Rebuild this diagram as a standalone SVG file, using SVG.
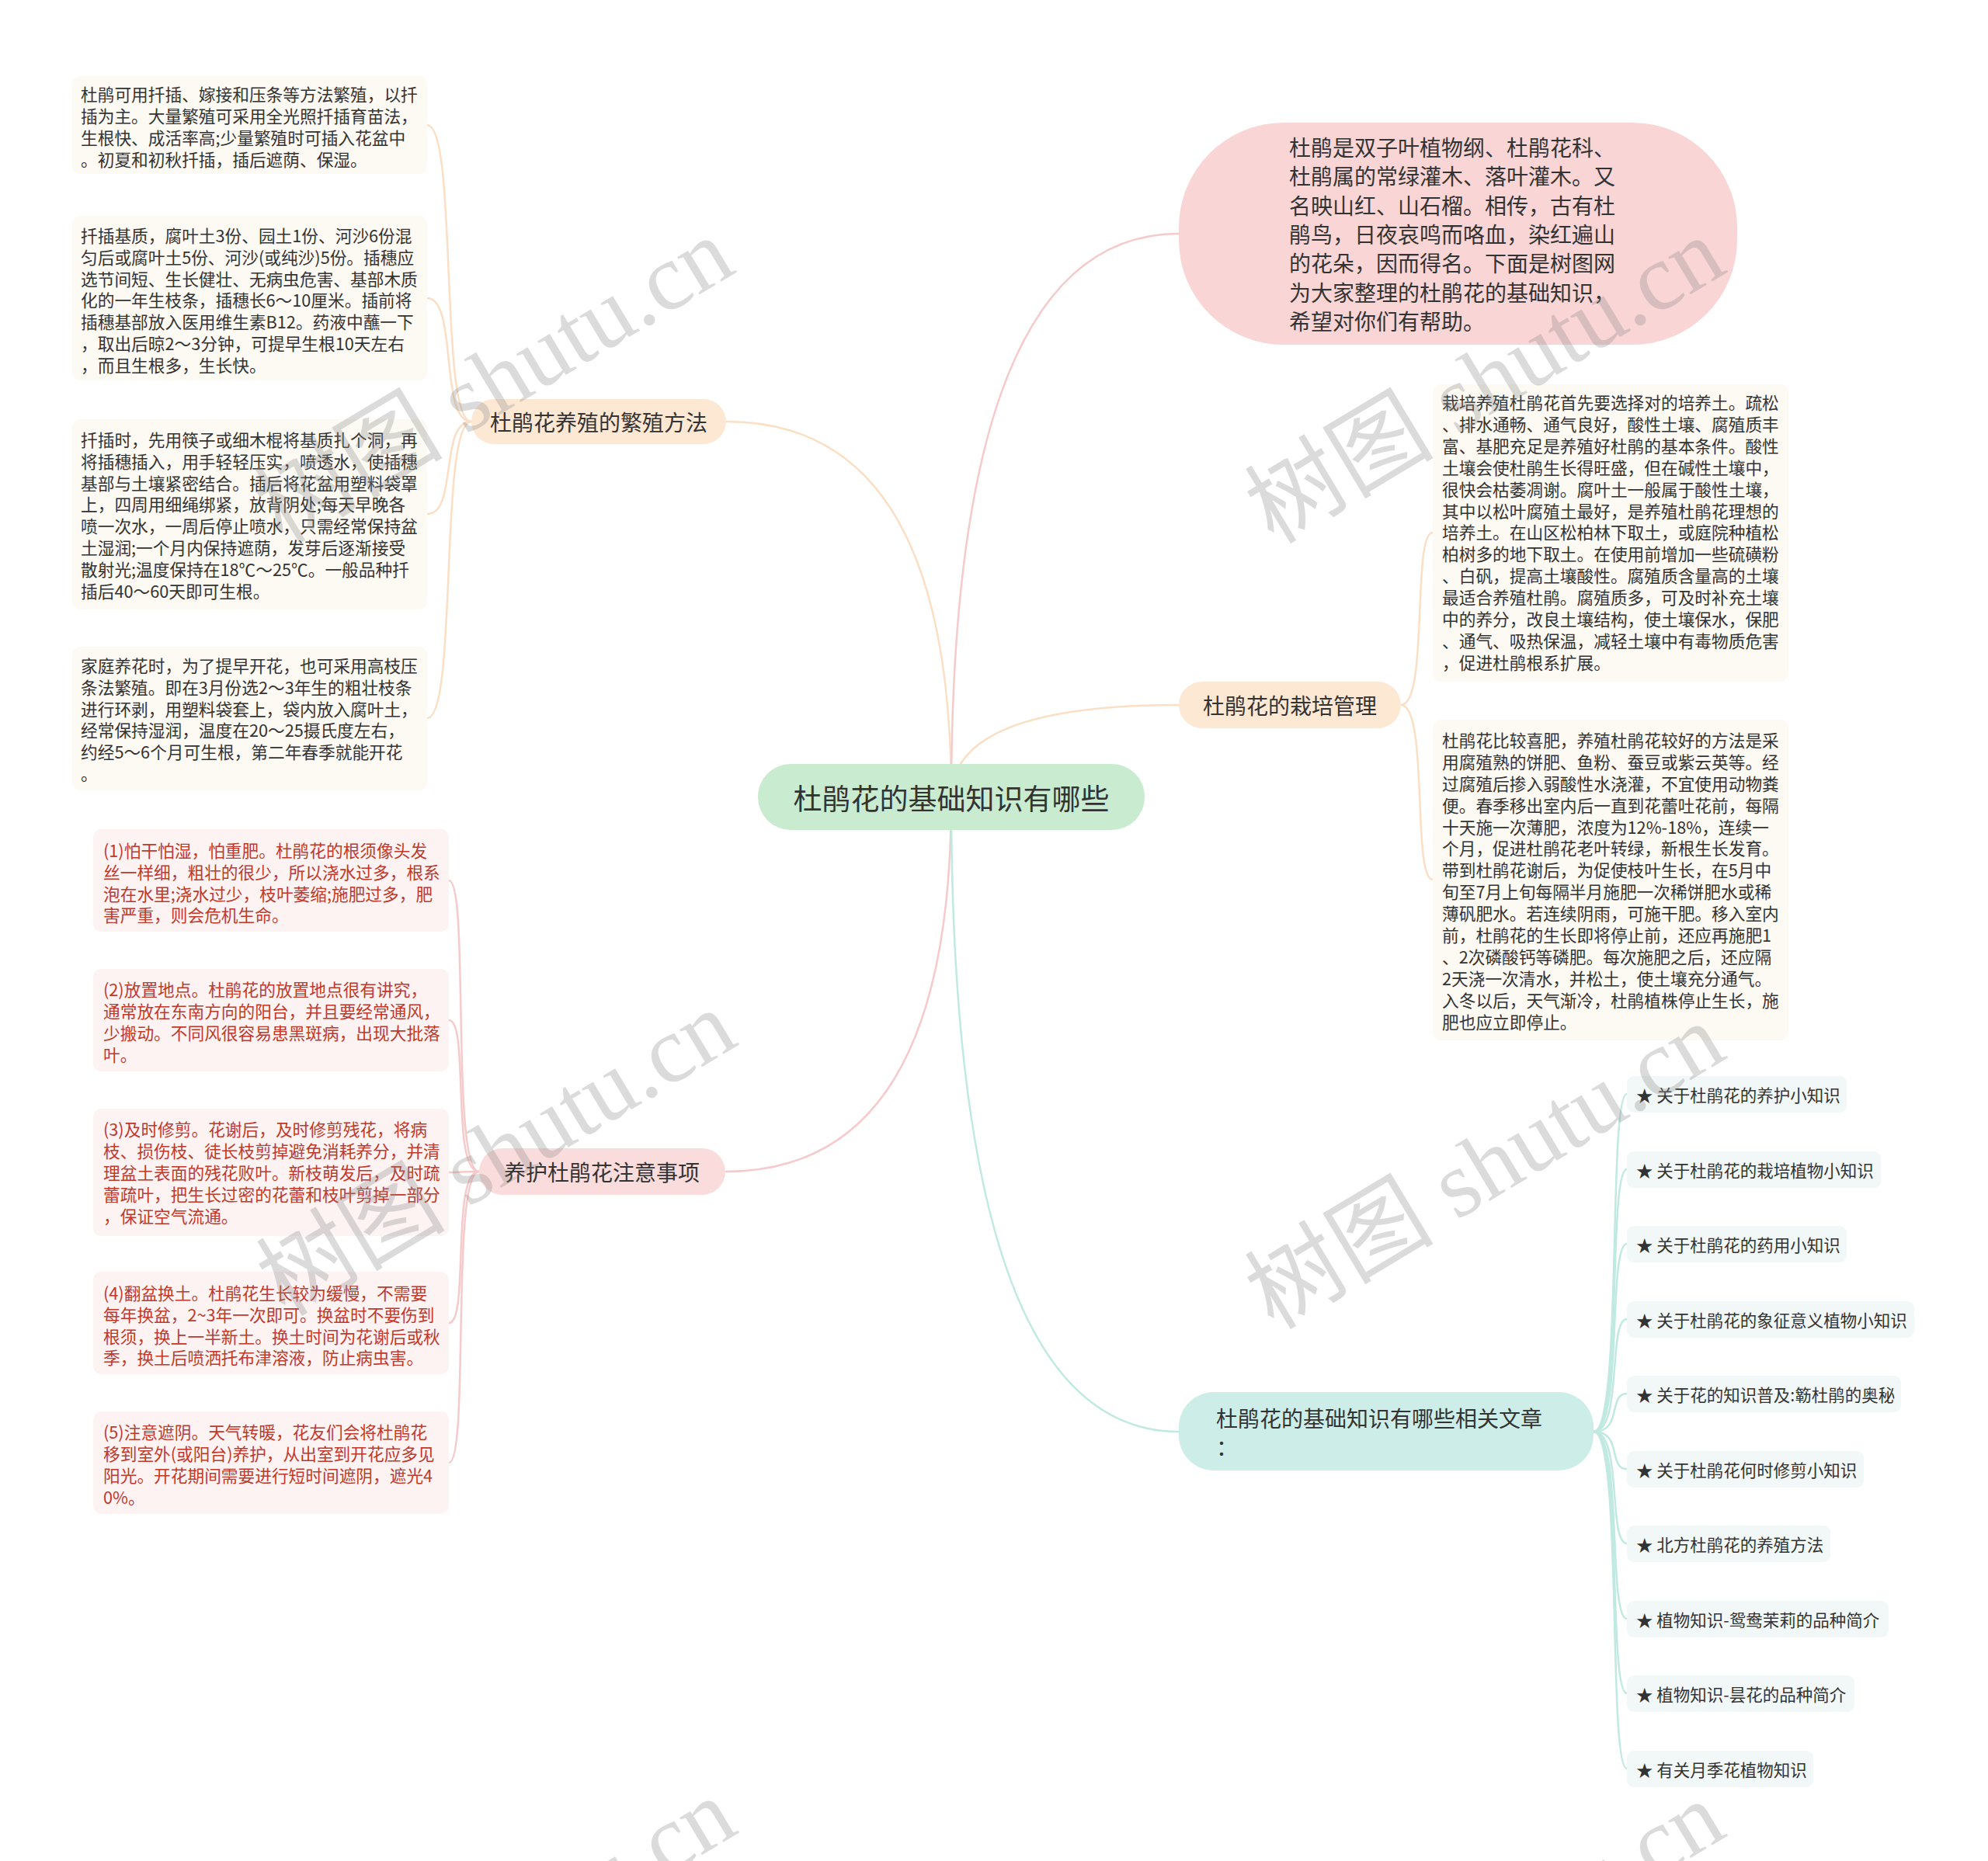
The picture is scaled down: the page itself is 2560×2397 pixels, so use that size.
<svg xmlns="http://www.w3.org/2000/svg" width="2560" height="2397" viewBox="0 0 2560 2397">
<style>
text{font-family:"Noto Sans CJK SC","Noto Sans",sans-serif;dominant-baseline:central;}
.blk{font-size:21.7px;fill:#333}
.red{font-size:21.7px;fill:#c0392b}
.lab{font-size:28px;fill:#333}
.itm{font-size:21.5px;fill:#333}
.cb{fill:#fdf9f3}
.rb{fill:#fdf3f3}
.ib{fill:#f1f8f7}
.lp{fill:none;stroke:#fbdfc4;stroke-width:2.5}
.lr{fill:none;stroke:#f6caca;stroke-width:2.5}
.lt{fill:none;stroke:#bfe9e1;stroke-width:2.5}
.wm{font-family:"Liberation Serif","Noto Sans CJK SC",serif;font-size:122px;fill:#888;fill-opacity:0.3;dominant-baseline:auto}
</style>
<rect width="2560" height="2397" fill="#fff"/>
<g id="connectors">
<path class="lp" d="M1225,1027 Q1225,543 935,543"/>
<path class="lr" d="M1225,1027 Q1225,301 1518,301"/>
<path class="lp" d="M1225,1027 Q1225,908 1518,908"/>
<path class="lr" d="M1225,1027 Q1225,1509 934,1509"/>
<path class="lt" d="M1225,1027 Q1225,1844 1518,1844"/>
<path class="lp" d="M607,543 C565,543 590,161 550,161"/>
<path class="lp" d="M607,543 C565,543 590,384 550,384"/>
<path class="lp" d="M607,543 C565,543 590,662 550,662"/>
<path class="lp" d="M607,543 C565,543 590,925 550,925"/>
<path class="lr" d="M617,1509 C580,1509 605,1134 578,1134"/>
<path class="lr" d="M617,1509 C580,1509 605,1314 578,1314"/>
<path class="lr" d="M617,1509 C580,1509 605,1510 578,1510"/>
<path class="lr" d="M617,1509 C580,1509 605,1704 578,1704"/>
<path class="lr" d="M617,1509 C580,1509 605,1884 578,1884"/>
<path class="lp" d="M1804,908 C1840,908 1818,686 1845,686"/>
<path class="lp" d="M1804,908 C1840,908 1818,1133 1845,1133"/>
<path class="lt" d="M2052,1844 C2090,1844 2070,1409 2095,1409"/>
<path class="lt" d="M2052,1844 C2090,1844 2070,1506 2095,1506"/>
<path class="lt" d="M2052,1844 C2090,1844 2070,1602 2095,1602"/>
<path class="lt" d="M2052,1844 C2090,1844 2070,1699 2095,1699"/>
<path class="lt" d="M2052,1844 C2090,1844 2070,1795 2095,1795"/>
<path class="lt" d="M2052,1844 C2090,1844 2070,1892 2095,1892"/>
<path class="lt" d="M2052,1844 C2090,1844 2070,1988 2095,1988"/>
<path class="lt" d="M2052,1844 C2090,1844 2070,2085 2095,2085"/>
<path class="lt" d="M2052,1844 C2090,1844 2070,2181 2095,2181"/>
<path class="lt" d="M2052,1844 C2090,1844 2070,2278 2095,2278"/>
</g>
<g id="center">
<rect x="976" y="984" width="498" height="85" rx="42" fill="#c9ecd1"/>
<text x="1225" y="1027" font-size="37" fill="#333" text-anchor="middle">杜鹃花的基础知识有哪些</text>
</g>
<g id="intro">
<rect x="1518" y="158" width="719" height="286" rx="135" fill="#f9d5d5"/>
<text class="lab" x="1660" y="189">杜鹃是双子叶植物纲、杜鹃花科、</text>
<text class="lab" x="1660" y="226">杜鹃属的常绿灌木、落叶灌木。又</text>
<text class="lab" x="1660" y="264">名映山红、山石榴。相传，古有杜</text>
<text class="lab" x="1660" y="301">鹃鸟，日夜哀鸣而咯血，染红遍山</text>
<text class="lab" x="1660" y="338">的花朵，因而得名。下面是树图网</text>
<text class="lab" x="1660" y="376">为大家整理的杜鹃花的基础知识，</text>
<text class="lab" x="1660" y="413">希望对你们有帮助。</text>
</g>
<g id="branch-propagation">
<rect x="607" y="514" width="328" height="58" rx="29" fill="#fde8d4"/>
<text class="lab" x="771" y="543" text-anchor="middle">杜鹃花养殖的繁殖方法</text>
</g>
<g id="prop-1">
<rect class="cb" x="93" y="98" width="457" height="126" rx="10"/>
<text class="blk" x="104" y="120">杜鹃可用扦插、嫁接和压条等方法繁殖，以扦</text>
<text class="blk" x="104" y="148">插为主。大量繁殖可采用全光照扦插育苗法，</text>
<text class="blk" x="104" y="176">生根快、成活率高;少量繁殖时可插入花盆中</text>
<text class="blk" x="104" y="204">。初夏和初秋扦插，插后遮荫、保湿。</text>
</g>
<g id="prop-2">
<rect class="cb" x="93" y="278" width="457" height="212" rx="10"/>
<text class="blk" x="104" y="302">扦插基质，腐叶土3份、园土1份、河沙6份混</text>
<text class="blk" x="104" y="330">匀后或腐叶土5份、河沙(或纯沙)5份。插穗应</text>
<text class="blk" x="104" y="358">选节间短、生长健壮、无病虫危害、基部木质</text>
<text class="blk" x="104" y="385">化的一年生枝条，插穗长6～10厘米。插前将</text>
<text class="blk" x="104" y="413">插穗基部放入医用维生素B12。药液中蘸一下</text>
<text class="blk" x="104" y="441">，取出后晾2～3分钟，可提早生根10天左右</text>
<text class="blk" x="104" y="469">，而且生根多，生长快。</text>
</g>
<g id="prop-3">
<rect class="cb" x="93" y="540" width="457" height="245" rx="10"/>
<text class="blk" x="104" y="565">扦插时，先用筷子或细木棍将基质扎个洞，再</text>
<text class="blk" x="104" y="593">将插穗插入，用手轻轻压实，喷透水，使插穗</text>
<text class="blk" x="104" y="621">基部与土壤紧密结合。插后将花盆用塑料袋罩</text>
<text class="blk" x="104" y="648">上，四周用细绳绑紧，放背阴处;每天早晚各</text>
<text class="blk" x="104" y="676">喷一次水，一周后停止喷水，只需经常保持盆</text>
<text class="blk" x="104" y="704">土湿润;一个月内保持遮荫，发芽后逐渐接受</text>
<text class="blk" x="104" y="732">散射光;温度保持在18℃～25℃。一般品种扦</text>
<text class="blk" x="104" y="760">插后40～60天即可生根。</text>
</g>
<g id="prop-4">
<rect class="cb" x="93" y="833" width="457" height="185" rx="10"/>
<text class="blk" x="104" y="856">家庭养花时，为了提早开花，也可采用高枝压</text>
<text class="blk" x="104" y="884">条法繁殖。即在3月份选2～3年生的粗壮枝条</text>
<text class="blk" x="104" y="912">进行环剥，用塑料袋套上，袋内放入腐叶土，</text>
<text class="blk" x="104" y="939">经常保持湿润，温度在20～25摄氏度左右，</text>
<text class="blk" x="104" y="967">约经5～6个月可生根，第二年春季就能开花</text>
<text class="blk" x="104" y="995">。</text>
</g>
<g id="branch-care">
<rect x="617" y="1479" width="317" height="60" rx="30" fill="#fbdcdc"/>
<text class="lab" x="775" y="1509" text-anchor="middle">养护杜鹃花注意事项</text>
</g>
<g id="care-1">
<rect class="rb" x="120" y="1068" width="458" height="132" rx="10"/>
<text class="red" x="133" y="1094">(1)怕干怕湿，怕重肥。杜鹃花的根须像头发</text>
<text class="red" x="133" y="1122">丝一样细，粗壮的很少，所以浇水过多，根系</text>
<text class="red" x="133" y="1150">泡在水里;浇水过少，枝叶萎缩;施肥过多，肥</text>
<text class="red" x="133" y="1177">害严重，则会危机生命。</text>
</g>
<g id="care-2">
<rect class="rb" x="120" y="1248" width="458" height="132" rx="10"/>
<text class="red" x="133" y="1273">(2)放置地点。杜鹃花的放置地点很有讲究，</text>
<text class="red" x="133" y="1301">通常放在东南方向的阳台，并且要经常通风，</text>
<text class="red" x="133" y="1329">少搬动。不同风很容易患黑斑病，出现大批落</text>
<text class="red" x="133" y="1357">叶。</text>
</g>
<g id="care-3">
<rect class="rb" x="120" y="1428" width="458" height="164" rx="10"/>
<text class="red" x="133" y="1453">(3)及时修剪。花谢后，及时修剪残花，将病</text>
<text class="red" x="133" y="1481">枝、损伤枝、徒长枝剪掉避免消耗养分，并清</text>
<text class="red" x="133" y="1509">理盆土表面的残花败叶。新枝萌发后，及时疏</text>
<text class="red" x="133" y="1537">蕾疏叶，把生长过密的花蕾和枝叶剪掉一部分</text>
<text class="red" x="133" y="1565">，保证空气流通。</text>
</g>
<g id="care-4">
<rect class="rb" x="120" y="1638" width="458" height="132" rx="10"/>
<text class="red" x="133" y="1664">(4)翻盆换土。杜鹃花生长较为缓慢，不需要</text>
<text class="red" x="133" y="1692">每年换盆，2~3年一次即可。换盆时不要伤到</text>
<text class="red" x="133" y="1720">根须，换上一半新土。换土时间为花谢后或秋</text>
<text class="red" x="133" y="1747">季，换土后喷洒托布津溶液，防止病虫害。</text>
</g>
<g id="care-5">
<rect class="rb" x="120" y="1818" width="458" height="132" rx="10"/>
<text class="red" x="133" y="1843">(5)注意遮阴。天气转暖，花友们会将杜鹃花</text>
<text class="red" x="133" y="1871">移到室外(或阳台)养护，从出室到开花应多见</text>
<text class="red" x="133" y="1899">阳光。开花期间需要进行短时间遮阴，遮光4</text>
<text class="red" x="133" y="1927">0%。</text>
</g>
<g id="branch-cultivation">
<rect x="1518" y="878" width="286" height="60" rx="30" fill="#fde8d4"/>
<text class="lab" x="1661" y="908" text-anchor="middle">杜鹃花的栽培管理</text>
</g>
<g id="cult-soil">
<rect class="cb" x="1845" y="495" width="458" height="383" rx="10"/>
<text class="blk" x="1857" y="517">栽培养殖杜鹃花首先要选择对的培养土。疏松</text>
<text class="blk" x="1857" y="545">、排水通畅、通气良好，酸性土壤、腐殖质丰</text>
<text class="blk" x="1857" y="573">富、基肥充足是养殖好杜鹃的基本条件。酸性</text>
<text class="blk" x="1857" y="601">土壤会使杜鹃生长得旺盛，但在碱性土壤中，</text>
<text class="blk" x="1857" y="629">很快会枯萎凋谢。腐叶土一般属于酸性土壤，</text>
<text class="blk" x="1857" y="657">其中以松叶腐殖土最好，是养殖杜鹃花理想的</text>
<text class="blk" x="1857" y="684">培养土。在山区松柏林下取土，或庭院种植松</text>
<text class="blk" x="1857" y="712">柏树多的地下取土。在使用前增加一些硫磺粉</text>
<text class="blk" x="1857" y="740">、白矾，提高土壤酸性。腐殖质含量高的土壤</text>
<text class="blk" x="1857" y="768">最适合养殖杜鹃。腐殖质多，可及时补充土壤</text>
<text class="blk" x="1857" y="796">中的养分，改良土壤结构，使土壤保水，保肥</text>
<text class="blk" x="1857" y="824">、通气、吸热保温，减轻土壤中有毒物质危害</text>
<text class="blk" x="1857" y="852">，促进杜鹃根系扩展。</text>
</g>
<g id="cult-fert">
<rect class="cb" x="1845" y="927" width="458" height="413" rx="10"/>
<text class="blk" x="1857" y="952">杜鹃花比较喜肥，养殖杜鹃花较好的方法是采</text>
<text class="blk" x="1857" y="980">用腐殖熟的饼肥、鱼粉、蚕豆或紫云英等。经</text>
<text class="blk" x="1857" y="1008">过腐殖后掺入弱酸性水浇灌，不宜使用动物粪</text>
<text class="blk" x="1857" y="1036">便。春季移出室内后一直到花蕾吐花前，每隔</text>
<text class="blk" x="1857" y="1064">十天施一次薄肥，浓度为12%-18%，连续一</text>
<text class="blk" x="1857" y="1091">个月，促进杜鹃花老叶转绿，新根生长发育。</text>
<text class="blk" x="1857" y="1119">带到杜鹃花谢后，为促使枝叶生长，在5月中</text>
<text class="blk" x="1857" y="1147">旬至7月上旬每隔半月施肥一次稀饼肥水或稀</text>
<text class="blk" x="1857" y="1175">薄矾肥水。若连续阴雨，可施干肥。移入室内</text>
<text class="blk" x="1857" y="1203">前，杜鹃花的生长即将停止前，还应再施肥1</text>
<text class="blk" x="1857" y="1231">、2次磷酸钙等磷肥。每次施肥之后，还应隔</text>
<text class="blk" x="1857" y="1259">2天浇一次清水，并松土，使土壤充分通气。</text>
<text class="blk" x="1857" y="1287">入冬以后，天气渐冷，杜鹃植株停止生长，施</text>
<text class="blk" x="1857" y="1315">肥也应立即停止。</text>
</g>
<g id="branch-articles">
<rect x="1518" y="1793" width="534" height="101" rx="45" fill="#cdeee8"/>
<text class="lab" x="1566" y="1826">杜鹃花的基础知识有哪些相关文章</text>
<text class="lab" x="1566" y="1863">：</text>
</g>
<g id="article-1"><rect class="ib" x="2095" y="1386" width="283" height="47" rx="9"/><text class="itm" x="2107" y="1409">★ 关于杜鹃花的养护小知识</text></g>
<g id="article-2"><rect class="ib" x="2095" y="1483" width="327" height="47" rx="9"/><text class="itm" x="2107" y="1506">★ 关于杜鹃花的栽培植物小知识</text></g>
<g id="article-3"><rect class="ib" x="2095" y="1579" width="283" height="47" rx="9"/><text class="itm" x="2107" y="1602">★ 关于杜鹃花的药用小知识</text></g>
<g id="article-4"><rect class="ib" x="2095" y="1676" width="370" height="47" rx="9"/><text class="itm" x="2107" y="1699">★ 关于杜鹃花的象征意义植物小知识</text></g>
<g id="article-5"><rect class="ib" x="2095" y="1772" width="353" height="47" rx="9"/><text class="itm" x="2107" y="1795">★ 关于花的知识普及:簕杜鹃的奥秘</text></g>
<g id="article-6"><rect class="ib" x="2095" y="1869" width="305" height="47" rx="9"/><text class="itm" x="2107" y="1892">★ 关于杜鹃花何时修剪小知识</text></g>
<g id="article-7"><rect class="ib" x="2095" y="1965" width="262" height="47" rx="9"/><text class="itm" x="2107" y="1988">★ 北方杜鹃花的养殖方法</text></g>
<g id="article-8"><rect class="ib" x="2095" y="2062" width="337" height="47" rx="9"/><text class="itm" x="2107" y="2085">★ 植物知识-鸳鸯茉莉的品种简介</text></g>
<g id="article-9"><rect class="ib" x="2095" y="2158" width="293" height="47" rx="9"/><text class="itm" x="2107" y="2181">★ 植物知识-昙花的品种简介</text></g>
<g id="article-10"><rect class="ib" x="2095" y="2255" width="240" height="47" rx="9"/><text class="itm" x="2107" y="2278">★ 有关月季花植物知识</text></g>
<g id="watermarks">
<text class="wm" transform="translate(364,702) rotate(-31)">树图 shutu.cn</text>
<text class="wm" transform="translate(1640,702) rotate(-31)">树图 shutu.cn</text>
<text class="wm" transform="translate(367,1697) rotate(-31)">树图 shutu.cn</text>
<text class="wm" transform="translate(1640,1714) rotate(-31)">树图 shutu.cn</text>
<text class="wm" transform="translate(367,2712) rotate(-31)">树图 shutu.cn</text>
<text class="wm" transform="translate(1640,2716) rotate(-31)">树图 shutu.cn</text>
</g>
</svg>
